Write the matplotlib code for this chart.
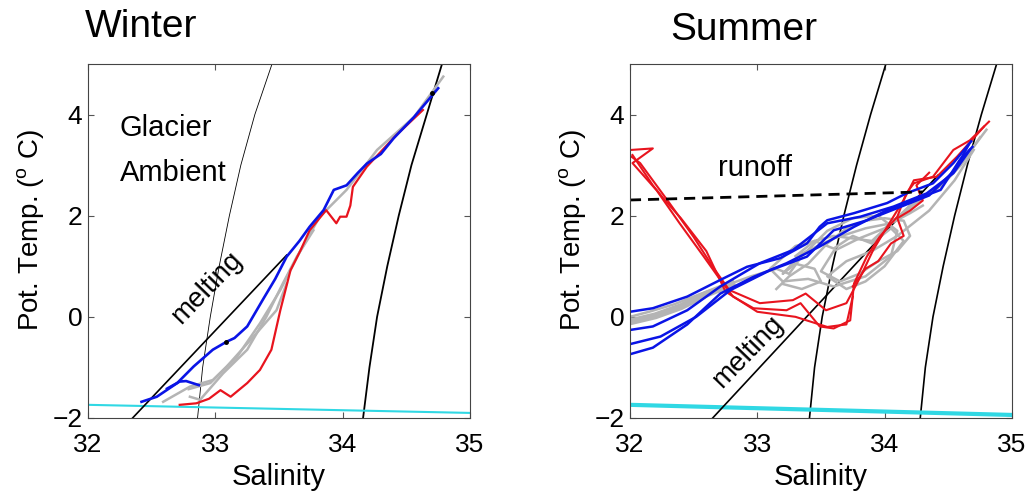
import numpy as np
import matplotlib.pyplot as plt

plt.rcParams['font.family'] = ['Liberation Sans', 'DejaVu Sans']
plt.rcParams['mathtext.default'] = 'regular'

BLUE = '#0a14e6'
RED = '#e8141e'
GRAY = '#b4b4b4'
CYAN = '#30d8e4'

# ---- shared reference lines ----
frz_s = [32.0, 35.0]
w_frz_t = [-1.74, -1.90]
s_frz_t = [-1.74, -1.94]

iso_t = [-2, -1, 0, 1, 2, 3, 4, 5]
w_iso1_s = [32.86, 32.90, 32.96, 33.03, 33.11, 33.20, 33.31, 33.445]
w_iso2_s = [34.16, 34.21, 34.27, 34.35, 34.44, 34.54, 34.66, 34.78]
s_iso1_s = [33.41, 33.45, 33.51, 33.59, 33.68, 33.78, 33.89, 34.01]
s_iso2_s = [34.28, 34.32, 34.38, 34.46, 34.55, 34.65, 34.76, 34.88]

w_melt_s = [32.35, 33.56]
w_melt_t = [-2.0, 1.22]
s_melt_s = [32.65, 34.42]
s_melt_t = [-2.0, 2.80]
s_run_s = [32.0, 34.3]
s_run_t = [2.31, 2.47]

# ---- Winter profiles ----
w_blue_s = [32.42, 32.54, 32.70, 32.83, 32.98, 33.09, 33.15, 33.25, 33.38, 33.47, 33.56,
            33.66, 33.74, 33.85, 33.93, 34.03, 34.12, 34.19, 34.30, 34.40, 34.56, 34.75]
w_blue_t = [-1.68, -1.58, -1.31, -0.98, -0.65, -0.49, -0.42, -0.19, 0.37, 0.75, 1.19,
            1.50, 1.78, 2.11, 2.51, 2.60, 2.85, 3.03, 3.22, 3.53, 3.95, 4.52]
w_blue2_s = [32.62, 32.72, 32.77, 32.87]
w_blue2_t = [-1.42, -1.28, -1.27, -1.35]
w_red_s = [32.72, 32.85, 32.95, 33.04, 33.12, 33.25, 33.35, 33.44, 33.51, 33.59, 33.67,
           33.74, 33.87, 33.95, 33.98, 34.03, 34.06, 34.08, 34.19, 34.42, 34.63]
w_red_t = [-1.74, -1.71, -1.62, -1.45, -1.58, -1.31, -1.05, -0.65, 0.13, 0.92, 1.32,
           1.71, 2.11, 1.85, 1.98, 1.98, 2.20, 2.57, 2.97, 3.59, 4.09]
w_gray1_s = [32.59, 32.80, 32.98, 33.17, 33.35, 33.51, 33.67, 33.82, 34.03, 34.27, 34.56, 34.79]
w_gray1_t = [-1.68, -1.38, -1.25, -0.79, -0.13, 0.53, 1.32, 1.98, 2.51, 3.30, 3.95, 4.75]
w_gray2_s = [32.80, 32.88, 33.06, 33.25, 33.40, 33.53, 33.64, 33.77]
w_gray2_t = [-1.58, -1.64, -1.12, -0.65, 0.00, 0.66, 1.19, 1.71]
w_gray3_s = [32.79, 32.96, 33.09, 33.30, 33.48, 33.56]
w_gray3_t = [-1.43, -1.31, -0.98, -0.39, 0.13, 0.66]
w_dot_s = [33.08, 34.70]
w_dot_t = [-0.49, 4.42]

# ---- Summer profiles ----
s_blue1_s = [32.0, 32.18, 32.45, 32.71, 32.92, 33.18, 33.39, 33.49, 33.55, 33.76, 34.02, 34.17, 34.38, 34.54, 34.68]
s_blue1_t = [0.10, 0.17, 0.40, 0.73, 0.99, 1.16, 1.45, 1.78, 1.91, 2.05, 2.25, 2.44, 2.64, 3.04, 3.47]
s_blue2_s = [32.0, 32.18, 32.45, 32.71, 32.97, 33.23, 33.49, 33.76, 34.02, 34.23, 34.44, 34.59, 34.69]
s_blue2_t = [-0.74, -0.61, -0.15, 0.46, 0.79, 1.06, 1.39, 1.78, 2.11, 2.31, 2.51, 3.10, 3.36]
s_blue3_s = [32.0, 32.18, 32.45, 32.71, 33.02, 33.28, 33.55, 33.81, 34.07, 34.33, 34.54, 34.67]
s_blue3_t = [-0.26, -0.19, 0.13, 0.60, 1.06, 1.32, 1.85, 1.98, 2.18, 2.44, 2.84, 3.30]
s_blue4_s = [32.0, 32.24, 32.52, 32.79, 33.10, 33.39, 33.60, 33.85, 34.10, 34.35, 34.55, 34.66]
s_blue4_t = [-0.54, -0.39, 0.00, 0.53, 0.92, 1.19, 1.71, 1.90, 2.15, 2.40, 2.90, 3.40]
s_red1_s = [32.01, 32.18, 32.02, 32.21, 32.39, 32.58, 32.71, 32.81, 32.97, 33.23, 33.34, 33.49,
            33.60, 33.73, 33.76, 33.86, 33.96, 34.10, 34.17, 34.23, 34.38, 34.54, 34.67, 34.82]
s_red1_t = [3.30, 3.33, 3.04, 2.50, 1.85, 1.19, 0.73, 0.40, 0.17, 0.13, 0.27, -0.19,
            -0.23, -0.07, 0.66, 1.19, 1.58, 1.98, 2.44, 2.64, 2.77, 3.30, 3.49, 3.86]
s_red2_s = [32.01, 32.08, 32.31, 32.50, 32.65, 32.78, 33.02, 33.28, 33.38, 33.54, 33.70,
            33.81, 33.91, 34.02, 34.15, 34.23, 34.41, 34.57, 34.78]
s_red2_t = [3.17, 3.04, 2.25, 1.58, 0.99, 0.53, 0.27, 0.33, 0.46, 0.13, 0.27,
            0.79, 1.32, 1.78, 2.31, 2.70, 2.77, 3.17, 3.76]
s_red3_s = [32.02, 32.10, 32.18, 32.26, 32.40, 32.60, 32.75, 33.00, 33.30, 33.55, 33.70, 33.75]
s_red3_t = [3.20, 2.90, 2.60, 2.35, 1.95, 1.30, 0.50, 0.10, 0.00, -0.20, -0.15, 0.40]
s_red4_s = [33.75, 33.85, 33.95, 34.05, 34.15, 34.10, 34.20, 34.30, 34.25, 34.35]
s_red4_t = [0.60, 0.95, 1.10, 1.45, 1.60, 1.95, 2.10, 2.30, 2.60, 2.85]
s_gband_s = [32.0, 32.2, 32.4, 32.6, 32.8]
s_gband_t = [-0.10, 0.02, 0.20, 0.45, 0.65]
s_gray1_s = [32.0, 32.15, 32.35, 32.55, 32.75, 32.95, 33.15, 33.25, 33.35, 33.55, 33.75, 33.95, 34.10,
             34.05, 33.85, 33.60, 33.40, 33.20, 33.10, 33.30, 33.60, 33.90, 34.20, 34.45, 34.60, 34.75]
s_gray1_t = [0.00, 0.10, 0.25, 0.45, 0.62, 0.80, 0.95, 0.85, 1.20, 1.70, 1.95, 2.00, 1.70,
             1.20, 0.80, 0.60, 0.75, 0.70, 0.95, 1.40, 1.60, 1.50, 2.20, 2.60, 3.00, 3.55]
s_gray2_s = [33.15, 33.25, 33.40, 33.55, 33.70, 33.85, 34.00, 34.15, 34.20, 34.10, 33.95,
             33.80, 33.65, 33.50, 33.60, 33.80, 34.00, 34.25, 34.50, 34.68, 34.80]
s_gray2_t = [0.55, 0.80, 1.05, 1.45, 1.75, 1.90, 1.95, 1.90, 1.60, 1.30, 1.10,
             0.85, 0.70, 0.90, 1.30, 1.55, 1.75, 2.25, 2.75, 3.30, 3.70]
s_gray3_s = [33.30, 33.45, 33.60, 33.75, 33.90, 34.05, 34.15, 34.00, 33.85, 33.70, 33.55,
             33.70, 33.90, 34.10, 34.35, 34.55, 34.70]
s_gray3_t = [1.20, 1.50, 1.35, 1.60, 1.45, 1.75, 1.50, 1.00, 0.70, 0.55, 0.80,
             1.10, 1.30, 1.60, 2.10, 2.70, 3.30]
s_gray4_s = [33.20, 33.35, 33.50, 33.45, 33.30, 33.20, 33.35, 33.60, 33.85, 34.05, 34.20, 34.30]
s_gray4_t = [0.65, 0.55, 0.70, 0.95, 1.05, 0.85, 1.25, 1.55, 1.75, 1.85, 2.05, 2.20]

fig = plt.figure(figsize=(10.31, 4.95), dpi=100)
ax_w = fig.add_axes([0.0854, 0.1556, 0.3705, 0.7152])
ax_s = fig.add_axes([0.611, 0.1556, 0.3705, 0.7152])

# Winter
ax_w.plot(w_iso1_s, iso_t, color='k', lw=0.6)
ax_w.plot(w_iso2_s, iso_t, color='k', lw=1.3)
ax_w.plot(frz_s, w_frz_t, color=CYAN, lw=1.5)
ax_w.plot(w_melt_s, w_melt_t, color='k', lw=1.2)
for s, t in [(w_gray1_s, w_gray1_t), (w_gray2_s, w_gray2_t), (w_gray3_s, w_gray3_t)]:
    ax_w.plot(s, t, color=GRAY, lw=1.8)
ax_w.plot(w_red_s, w_red_t, color=RED, lw=1.6)
ax_w.plot(w_blue_s, w_blue_t, color=BLUE, lw=1.9)
ax_w.plot(w_blue2_s, w_blue2_t, color=BLUE, lw=1.9)
ax_w.plot(w_dot_s, w_dot_t, 'o', color='k', ms=2.5)
ax_w.text(32.25, 3.73, 'Glacier', fontsize=21, va='center')
ax_w.text(32.25, 2.84, 'Ambient', fontsize=21, va='center')
ax_w.text(32.93, 0.57, 'melting', fontsize=20, rotation=46, ha='center', va='center')

# Summer
ax_s.plot(s_iso1_s, iso_t, color='k', lw=1.2)
ax_s.plot(s_iso2_s, iso_t, color='k', lw=1.2)
ax_s.plot(frz_s, s_frz_t, color=CYAN, lw=3)
ax_s.plot(s_melt_s, s_melt_t, color='k', lw=1.2)
ax_s.plot(s_gband_s, s_gband_t, color=GRAY, lw=5)
for s, t in [(s_gray1_s, s_gray1_t), (s_gray2_s, s_gray2_t), (s_gray3_s, s_gray3_t),
             (s_gray4_s, s_gray4_t)]:
    ax_s.plot(s, t, color=GRAY, lw=1.8)
for s, t in [(s_red1_s, s_red1_t), (s_red2_s, s_red2_t), (s_red3_s, s_red3_t), (s_red4_s, s_red4_t)]:
    ax_s.plot(s, t, color=RED, lw=1.5)
for s, t in [(s_blue1_s, s_blue1_t), (s_blue2_s, s_blue2_t), (s_blue3_s, s_blue3_t), (s_blue4_s, s_blue4_t)]:
    ax_s.plot(s, t, color=BLUE, lw=1.8)
ax_s.plot(s_run_s, s_run_t, color='k', lw=2, ls=(0, (4, 2.5)))
ax_s.text(32.69, 2.94, 'runoff', fontsize=21, va='center')
ax_s.text(32.93, -0.70, 'melting', fontsize=20, rotation=46, ha='center', va='center')

for ax in (ax_w, ax_s):
    ax.set_xlim(32, 35)
    ax.set_ylim(-2, 5)
    ax.set_xticks([32, 33, 34, 35])
    ax.set_yticks([-2, 0, 2, 4])
    ax.tick_params(direction='in', top=True, right=True, labelsize=19, length=4,
                   color='#555555')
    ax.tick_params(axis='x', pad=11)
    ax.tick_params(axis='y', pad=4)
    for sp in ax.spines.values():
        sp.set_color('#444444')
        sp.set_linewidth(0.8)
    ax.set_xlabel('Salinity', fontsize=21, labelpad=4)
    ax.set_ylabel('Pot. Temp. ($^o$ C)', fontsize=20)
    ax.yaxis.set_label_coords(-0.11, 0.53)

fig.text(85 / 1031, 1 - 37 / 495, 'Winter', fontsize=28, ha='left', va='baseline')
fig.text(670 / 1031, 1 - 40 / 495, 'Summer', fontsize=28, ha='left', va='baseline')

fig.savefig('out.png', dpi=100)
